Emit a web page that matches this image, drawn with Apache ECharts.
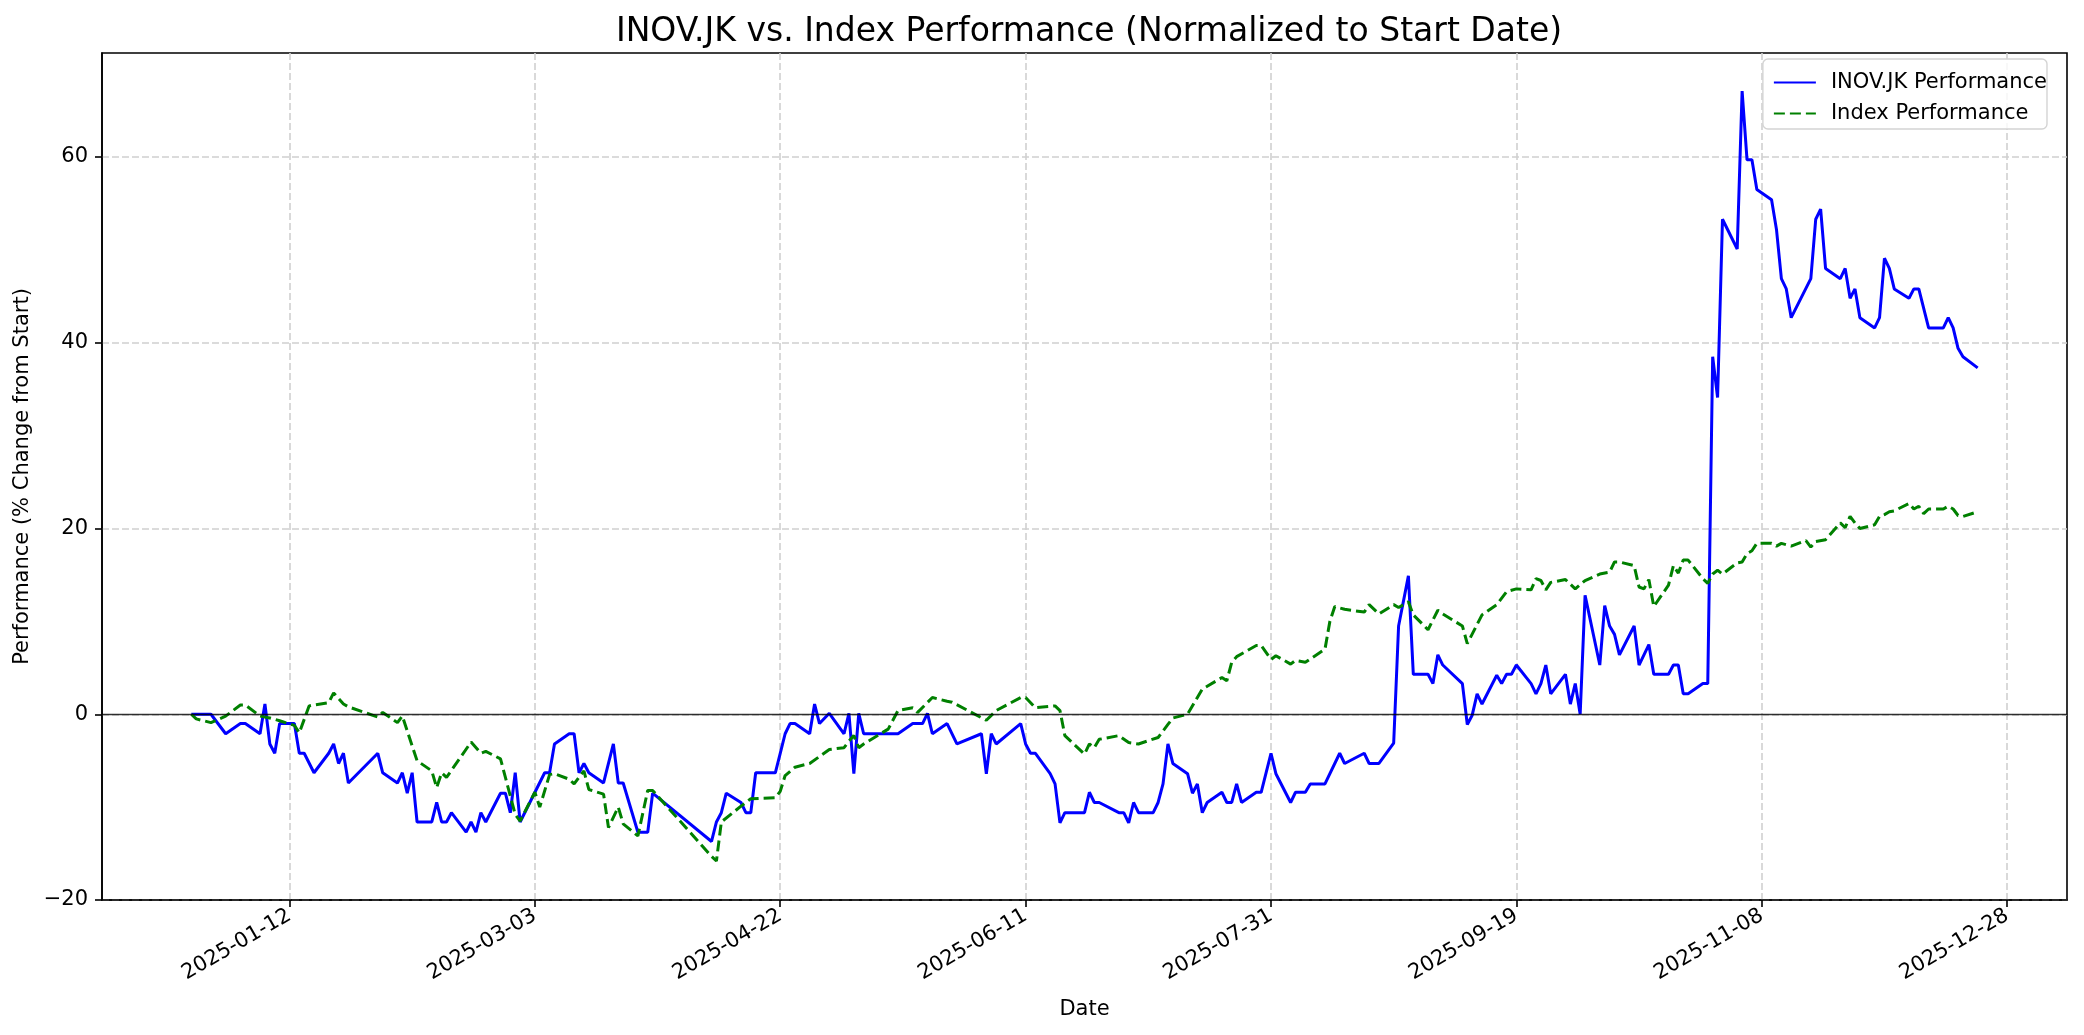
<!DOCTYPE html>
<html>
<head>
<meta charset="utf-8">
<script src="https://cdn.jsdelivr.net/npm/echarts@6/dist/echarts.min.js"></script>
<style>
html,body{margin:0;padding:0;background:#fff;}
#chart{width:2084px;height:1035px;}
</style>
</head>
<body>
<div id="chart"></div>
<script>
// ---- data ----
const stockDates = ["2024-12-23","2024-12-24","2024-12-27","2024-12-30","2025-01-02","2025-01-03","2025-01-06","2025-01-07","2025-01-08","2025-01-09","2025-01-10","2025-01-13","2025-01-14","2025-01-15","2025-01-17","2025-01-20","2025-01-21","2025-01-22","2025-01-23","2025-01-24","2025-01-30","2025-01-31","2025-02-03","2025-02-04","2025-02-05","2025-02-06","2025-02-07","2025-02-10","2025-02-11","2025-02-12","2025-02-13","2025-02-14","2025-02-17","2025-02-18","2025-02-19","2025-02-20","2025-02-21","2025-02-24","2025-02-25","2025-02-26","2025-02-27","2025-02-28","2025-03-05","2025-03-06","2025-03-07","2025-03-10","2025-03-11","2025-03-12","2025-03-13","2025-03-14","2025-03-17","2025-03-19","2025-03-20","2025-03-21","2025-03-24","2025-03-25","2025-03-26","2025-03-27","2025-04-08","2025-04-09","2025-04-10","2025-04-11","2025-04-14","2025-04-15","2025-04-16","2025-04-17","2025-04-21","2025-04-22","2025-04-23","2025-04-24","2025-04-25","2025-04-28","2025-04-29","2025-04-30","2025-05-02","2025-05-05","2025-05-06","2025-05-07","2025-05-08","2025-05-09","2025-05-14","2025-05-15","2025-05-16","2025-05-19","2025-05-20","2025-05-21","2025-05-22","2025-05-23","2025-05-26","2025-05-28","2025-06-02","2025-06-03","2025-06-04","2025-06-05","2025-06-10","2025-06-11","2025-06-12","2025-06-13","2025-06-16","2025-06-17","2025-06-18","2025-06-19","2025-06-20","2025-06-23","2025-06-24","2025-06-25","2025-06-26","2025-06-30","2025-07-01","2025-07-02","2025-07-03","2025-07-04","2025-07-07","2025-07-08","2025-07-09","2025-07-10","2025-07-11","2025-07-14","2025-07-15","2025-07-16","2025-07-17","2025-07-18","2025-07-21","2025-07-22","2025-07-23","2025-07-24","2025-07-25","2025-07-28","2025-07-29","2025-07-31","2025-08-01","2025-08-04","2025-08-05","2025-08-06","2025-08-07","2025-08-08","2025-08-11","2025-08-14","2025-08-15","2025-08-19","2025-08-20","2025-08-21","2025-08-22","2025-08-25","2025-08-26","2025-08-28","2025-08-29","2025-09-01","2025-09-02","2025-09-03","2025-09-04","2025-09-08","2025-09-09","2025-09-10","2025-09-11","2025-09-12","2025-09-15","2025-09-16","2025-09-17","2025-09-18","2025-09-19","2025-09-22","2025-09-23","2025-09-24","2025-09-25","2025-09-26","2025-09-29","2025-09-30","2025-10-01","2025-10-02","2025-10-03","2025-10-06","2025-10-07","2025-10-08","2025-10-09","2025-10-10","2025-10-13","2025-10-14","2025-10-16","2025-10-17","2025-10-20","2025-10-21","2025-10-22","2025-10-23","2025-10-24","2025-10-27","2025-10-28","2025-10-29","2025-10-30","2025-10-31","2025-11-03","2025-11-04","2025-11-05","2025-11-06","2025-11-07","2025-11-10","2025-11-11","2025-11-12","2025-11-13","2025-11-14","2025-11-18","2025-11-19","2025-11-20","2025-11-21","2025-11-24","2025-11-25","2025-11-26","2025-11-27","2025-11-28","2025-12-01","2025-12-02","2025-12-03","2025-12-04","2025-12-05","2025-12-08","2025-12-09","2025-12-10","2025-12-12","2025-12-15","2025-12-16","2025-12-17","2025-12-18","2025-12-19","2025-12-22"];
const stockValues = [0,0,0,-2.1,-1.0,-1.0,-2.1,1.1,-3.2,-4.2,-1.0,-1.0,-4.2,-4.2,-6.3,-4.2,-3.2,-5.3,-4.2,-7.4,-4.2,-6.3,-7.4,-6.3,-8.5,-6.3,-11.6,-11.6,-9.5,-11.6,-11.6,-10.6,-12.7,-11.6,-12.7,-10.6,-11.6,-8.5,-8.5,-10.6,-6.3,-11.6,-6.3,-6.3,-3.2,-2.1,-2.1,-6.3,-5.3,-6.3,-7.4,-3.2,-7.4,-7.4,-12.7,-12.7,-12.7,-8.5,-13.7,-11.6,-10.6,-8.5,-9.5,-10.6,-10.6,-6.3,-6.3,-4.2,-2.1,-1.0,-1.0,-2.1,1.1,-1.0,0.1,-2.1,0.1,-6.4,0.1,-2.1,-2.1,-2.1,-2.1,-1.0,-1.0,-1.0,0.1,-2.1,-1.0,-3.2,-2.1,-6.4,-2.1,-3.2,-1.0,-3.2,-4.2,-4.2,-6.4,-7.5,-11.7,-10.6,-10.6,-10.6,-8.4,-9.5,-9.5,-10.6,-10.6,-11.7,-9.5,-10.6,-10.6,-9.5,-7.5,-3.2,-5.3,-6.4,-8.5,-7.5,-10.6,-9.5,-8.4,-9.5,-9.5,-7.5,-9.5,-8.4,-8.4,-4.2,-6.4,-9.5,-8.4,-8.4,-8.4,-7.5,-7.5,-4.2,-5.3,-4.2,-5.3,-5.3,-5.3,-3.1,9.5,14.9,4.3,4.3,3.3,6.4,5.3,3.3,-1.1,-0.1,2.2,1.1,4.2,3.3,4.3,4.3,5.3,3.3,2.2,3.3,5.3,2.2,4.3,1.1,3.3,0,12.8,5.3,11.7,9.5,8.6,6.4,9.5,5.3,7.5,4.3,4.3,5.3,5.3,2.2,2.2,3.3,3.3,38.5,34.1,53.3,50.1,67.1,59.7,59.7,56.5,55.4,52.2,46.9,45.8,42.7,46.9,53.3,54.4,48.0,46.9,48.0,44.8,45.8,42.7,41.6,42.7,49.1,48.0,45.8,44.8,45.8,45.8,41.6,41.6,42.7,41.6,39.4,38.5,37.3];

const indexDates = ["2024-12-23","2024-12-24","2024-12-27","2024-12-30","2025-01-02","2025-01-03","2025-01-06","2025-01-08","2025-01-10","2025-01-13","2025-01-14","2025-01-16","2025-01-17","2025-01-20","2025-01-21","2025-01-23","2025-01-24","2025-01-30","2025-01-31","2025-02-03","2025-02-04","2025-02-07","2025-02-10","2025-02-11","2025-02-12","2025-02-13","2025-02-18","2025-02-20","2025-02-21","2025-02-24","2025-02-27","2025-02-28","2025-03-03","2025-03-04","2025-03-06","2025-03-07","2025-03-10","2025-03-11","2025-03-13","2025-03-14","2025-03-17","2025-03-18","2025-03-20","2025-03-21","2025-03-24","2025-03-26","2025-03-27","2025-04-08","2025-04-09","2025-04-10","2025-04-14","2025-04-16","2025-04-21","2025-04-22","2025-04-23","2025-04-25","2025-04-28","2025-05-02","2025-05-05","2025-05-06","2025-05-07","2025-05-08","2025-05-09","2025-05-14","2025-05-16","2025-05-19","2025-05-20","2025-05-23","2025-05-26","2025-05-27","2025-06-03","2025-06-05","2025-06-10","2025-06-11","2025-06-13","2025-06-17","2025-06-18","2025-06-19","2025-06-23","2025-06-24","2025-06-25","2025-06-26","2025-06-30","2025-07-02","2025-07-04","2025-07-08","2025-07-10","2025-07-11","2025-07-14","2025-07-16","2025-07-17","2025-07-21","2025-07-22","2025-07-23","2025-07-24","2025-07-28","2025-07-29","2025-07-31","2025-08-01","2025-08-04","2025-08-05","2025-08-07","2025-08-11","2025-08-12","2025-08-13","2025-08-15","2025-08-19","2025-08-20","2025-08-22","2025-08-25","2025-08-26","2025-08-28","2025-08-29","2025-09-01","2025-09-03","2025-09-04","2025-09-08","2025-09-09","2025-09-12","2025-09-15","2025-09-17","2025-09-19","2025-09-22","2025-09-23","2025-09-24","2025-09-25","2025-09-26","2025-09-29","2025-10-01","2025-10-03","2025-10-06","2025-10-08","2025-10-09","2025-10-10","2025-10-13","2025-10-14","2025-10-15","2025-10-16","2025-10-17","2025-10-20","2025-10-21","2025-10-22","2025-10-23","2025-10-24","2025-10-27","2025-10-28","2025-10-29","2025-10-30","2025-10-31","2025-11-03","2025-11-04","2025-11-05","2025-11-06","2025-11-07","2025-11-10","2025-11-11","2025-11-12","2025-11-14","2025-11-17","2025-11-18","2025-11-19","2025-11-21","2025-11-24","2025-11-25","2025-11-26","2025-11-27","2025-11-28","2025-12-01","2025-12-02","2025-12-03","2025-12-04","2025-12-05","2025-12-08","2025-12-09","2025-12-10","2025-12-11","2025-12-12","2025-12-15","2025-12-16","2025-12-17","2025-12-18","2025-12-19","2025-12-22"];
const indexValues = [0,-0.5,-0.9,-0.2,1.0,1.0,-0.2,-0.4,-0.7,-1.2,-2.0,0.9,1.0,1.25,2.3,1.1,0.8,-0.3,0.2,-0.9,-0.2,-5.0,-6.1,-7.9,-6.3,-6.8,-3.0,-4.2,-4.0,-4.8,-10.8,-11.5,-8.4,-10.0,-6.5,-6.4,-7.0,-7.5,-6.1,-8.1,-8.6,-12.2,-10.0,-11.8,-13.1,-8.2,-8.2,-15.3,-15.8,-11.6,-9.9,-9.1,-9.0,-8.3,-6.6,-5.7,-5.3,-3.8,-3.6,-2.9,-2.3,-3.6,-3.2,-1.6,0.4,0.7,0.2,1.8,1.4,1.3,-0.65,0.4,1.8,1.8,0.7,0.9,0.4,-2.3,-4.3,-3.2,-3.6,-2.7,-2.3,-3.05,-3.2,-2.5,-1.1,-0.4,0,1.8,2.7,3.95,3.6,5.6,6.2,7.4,7.4,5.9,6.3,5.4,5.8,5.6,7.0,10.0,11.6,11.3,11.0,11.8,10.8,11.8,11.5,12.1,10.7,9.1,11.2,10.8,9.5,7.6,10.7,11.8,13.2,13.5,13.4,14.6,14.4,13.4,14.2,14.5,13.5,14.4,15.1,15.3,16.4,16.4,16.0,13.7,13.5,14.5,11.6,13.9,16.0,15.2,16.6,16.6,14.6,14.1,15.1,15.5,15.1,16.3,16.4,17.3,17.6,18.4,18.4,18.1,18.4,18.1,18.7,18.0,18.6,18.8,20.6,20.1,21.3,20.6,20.0,20.4,21.3,21.5,21.8,21.9,22.7,22.1,22.4,21.6,22.1,22.1,22.4,22.1,21.4,21.3,21.8];

const xTickLabels = ["2025-01-12","2025-03-03","2025-04-22","2025-06-11","2025-07-31","2025-09-19","2025-11-08","2025-12-28"];
const yTickValues = [-20, 0, 20, 40, 60];

// ---- build chart ----
function ts(s){ const p = s.split('-').map(Number); return Date.UTC(p[0], p[1]-1, p[2]); }
function fmt(v){ const d = new Date(Math.round(v)); const m = String(d.getUTCMonth()+1).padStart(2,'0'); const dd = String(d.getUTCDate()).padStart(2,'0'); return d.getUTCFullYear()+'-'+m+'-'+dd; }
const xStart = ts(stockDates[0]), xEnd = ts(stockDates[stockDates.length-1]);
const pad = (xEnd - xStart) * 0.05;

const stockData = stockDates.map((d,i)=>[ts(d), stockValues[i]]);
const indexData = indexDates.map((d,i)=>[ts(d), indexValues[i]]);
const xTicks = xTickLabels.map(ts);

const FONT = 'DejaVu Sans';
const chart = echarts.init(document.getElementById('chart'), null, {renderer:'canvas'});
chart.setOption({
  backgroundColor: '#ffffff',
  animation: false,
  textStyle: { fontFamily: FONT },
  title: {
    text: 'INOV.JK vs. Index Performance (Normalized to Start Date)',
    left: 1084, top: 11, textAlign: 'center',
    textStyle: { fontFamily: FONT, fontSize: 33, fontWeight: 'normal', color: '#000' }
  },
  legend: {
    data: ['INOV.JK Performance', 'Index Performance'],
    orient: 'vertical', right: 37, top: 59,
    padding: [13, 0, 5, 10], itemGap: 10, itemWidth: 42, itemHeight: 14,
    borderColor: '#d4d4d4', borderWidth: 1.4, borderRadius: 5,
    backgroundColor: 'rgba(255,255,255,0.8)',
    itemStyle: { opacity: 0 },
    textStyle: { fontFamily: FONT, fontSize: 21, color: '#000', padding: [0,0,0,10], width: 192, overflow: 'none' }
  },
  grid: { left: 102, right: 17, top: 53, bottom: 135, show: true, borderColor: '#000', borderWidth: 1.6, backgroundColor: 'transparent' },
  xAxis: {
    type: 'value', min: xStart - pad, max: xEnd + pad, scale: true,
    name: 'Date', nameLocation: 'middle', nameGap: 99,
    nameTextStyle: { fontFamily: FONT, fontSize: 21, color: '#000' },
    axisLine: { show: true, onZero: false, lineStyle: { color: '#000', width: 1.6 } },
    axisTick: { show: true, customValues: xTicks, length: 7, lineStyle: { color: '#000', width: 1.6 } },
    axisLabel: { customValues: xTicks, formatter: (v)=>fmt(v), rotate: 30, margin: 14, fontFamily: FONT, fontSize: 21, color: '#000', hideOverlap: false },
    splitLine: { show: true, lineStyle: { color: '#d0d0d0', width: 1.6, type: [7, 3] } }
  },
  yAxis: {
    type: 'value', min: -20, max: 71.2, interval: 20,
    name: 'Performance (% Change from Start)', nameLocation: 'middle', nameGap: 64,
    nameTextStyle: { fontFamily: FONT, fontSize: 21, color: '#000' },
    axisLine: { show: true, onZero: false, lineStyle: { color: '#000', width: 1.6 } },
    axisTick: { show: true, customValues: yTickValues, length: 7, lineStyle: { color: '#000', width: 1.6 } },
    axisLabel: { customValues: yTickValues, formatter: (v)=>String(v).replace('-', '\u2212'), margin: 14, fontFamily: FONT, fontSize: 21, color: '#000' },
    splitLine: { show: true, lineStyle: { color: '#d0d0d0', width: 1.6, type: [7, 3] } }
  },
  series: [
    {
      name: 'zero', type: 'line', data: [], z: 1, silent: true,
      markLine: { silent: true, symbol: 'none', label: { show: false },
        lineStyle: { color: '#000', width: 1.4, type: 'solid', opacity: 0.8 },
        data: [{ yAxis: 0 }] }
    },
    {
      name: 'INOV.JK Performance', type: 'line', data: stockData, z: 3,
      symbol: 'none', showSymbol: false,
      lineStyle: { color: '#0000ff', width: 3 }, itemStyle: { color: '#0000ff' }
    },
    {
      name: 'Index Performance', type: 'line', data: indexData, z: 4,
      symbol: 'none', showSymbol: false,
      lineStyle: { color: '#008000', width: 3, type: [11, 5] }, itemStyle: { color: '#008000' }
    }
  ]
});
</script>
</body>
</html>
